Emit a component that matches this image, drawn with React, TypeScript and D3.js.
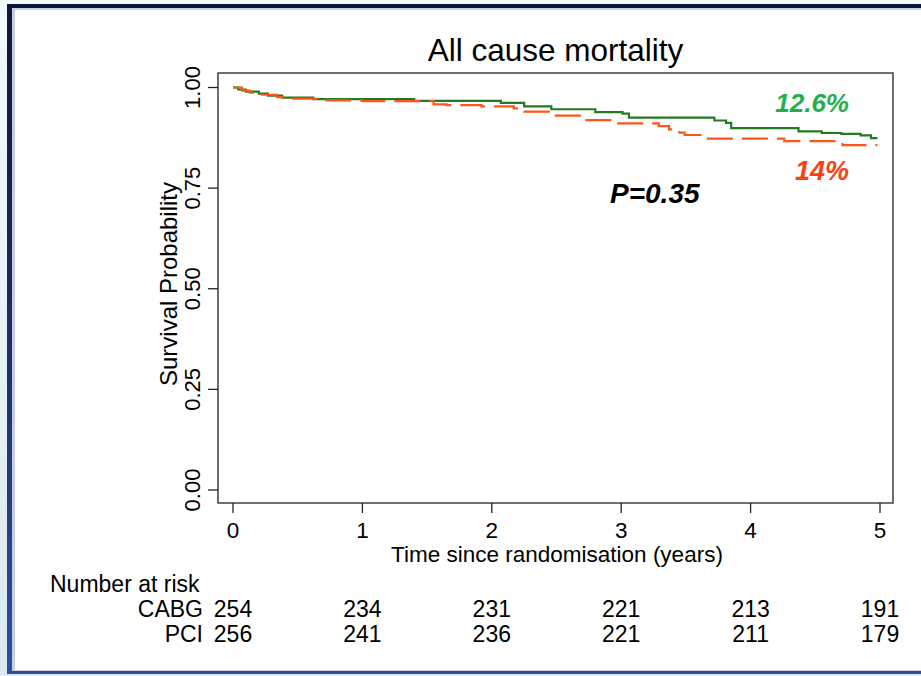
import React from "react";
import * as d3 from "d3";

// Kaplan–Meier step estimates (time in years, survival probability)
const cabgTimes = [0, 0.04, 0.1, 0.2, 0.27, 0.38, 0.62, 1.4, 2.07, 2.25, 2.46, 2.8, 3.01, 3.06, 3.72, 3.81, 3.85, 4.37, 4.55, 4.7, 4.85, 4.93, 4.98];
const cabgSurv = [1.0, 0.995, 0.99, 0.985, 0.98, 0.975, 0.971, 0.967, 0.962, 0.953, 0.946, 0.939, 0.935, 0.925, 0.918, 0.912, 0.899, 0.891, 0.887, 0.885, 0.881, 0.874, 0.874];

const pciTimes = [0, 0.07, 0.13, 0.19, 0.34, 0.43, 0.68, 1.0, 1.55, 1.65, 1.92, 2.17, 2.25, 2.47, 2.71, 2.94, 3.29, 3.37, 3.45, 3.49, 3.67, 4.26, 4.71, 4.98];
const pciSurv = [1.0, 0.992, 0.987, 0.982, 0.976, 0.972, 0.968, 0.966, 0.958, 0.956, 0.953, 0.948, 0.94, 0.93, 0.919, 0.911, 0.904, 0.896, 0.888, 0.882, 0.873, 0.867, 0.857, 0.857];

// Axis ticks
const xTicks = [0, 1, 2, 3, 4, 5];
const yTicks = [0, 0.25, 0.5, 0.75, 1.0];

// Number at risk table
const riskGroups = ["CABG", "PCI"];
const riskTimes = [0, 1, 2, 3, 4, 5];
const cabgRisk = [254, 234, 231, 221, 213, 191];
const pciRisk = [256, 241, 236, 221, 211, 179];

const W = 921;
const H = 676;
const box = { left: 218, right: 893, top: 73, bottom: 503 };
const FONT = "'Liberation Sans', Arial, Helvetica, sans-serif";

export default function App() {
  const x = d3.scaleLinear().domain([0, 5]).range([233, 880]);
  const y = d3.scaleLinear().domain([0, 1]).range([490, 87.5]);

  const line = d3
    .line<[number, number]>()
    .x((d) => x(d[0]))
    .y((d) => y(d[1]))
    .curve(d3.curveStepAfter);

  const cabgPath = line(cabgTimes.map((t, i) => [t, cabgSurv[i]]) as [number, number][]) || "";
  const pciPath = line(pciTimes.map((t, i) => [t, pciSurv[i]]) as [number, number][]) || "";

  const riskRows = [cabgRisk, pciRisk];

  return (
    <svg
      width={W}
      height={H}
      viewBox={`0 0 ${W} ${H}`}
      style={{ position: "absolute", left: 0, top: 0, display: "block" }}
    >
      <defs>
        <linearGradient id="frameGrad" x1="0" y1="0" x2="0" y2="1">
          <stop offset="0" stopColor="#0d1834" />
          <stop offset="0.45" stopColor="#1a2b5e" />
          <stop offset="1" stopColor="#2d509e" />
        </linearGradient>
        <linearGradient id="outerGrad" x1="0" y1="0" x2="0" y2="1">
          <stop offset="0" stopColor="#f3f9fc" />
          <stop offset="1" stopColor="#dce9f0" />
        </linearGradient>
      </defs>

      {/* slide background and frame */}
      <rect x={0} y={0} width={W} height={H} fill="url(#outerGrad)" />
      <rect x={7} y={4} width={W} height={670} fill="url(#frameGrad)" />
      <rect x={12} y={8} width={W} height={663} fill="#c9cde0" />
      <rect x={15} y={10} width={W} height={660} fill="#ffffff" />

      {/* title */}
      <text x={(box.left + box.right) / 2} y={61} textAnchor="middle" fontFamily={FONT} fontSize={31.5} fill="#000">
        All cause mortality
      </text>

      {/* plot box */}
      <rect
        x={box.left}
        y={box.top}
        width={box.right - box.left}
        height={box.bottom - box.top}
        fill="none"
        stroke="#222"
        strokeWidth={1.3}
      />

      {/* y axis */}
      {yTicks.map((v) => (
        <g key={`y${v}`}>
          <line x1={208} x2={box.left} y1={y(v)} y2={y(v)} stroke="#222" strokeWidth={1.3} />
          <text
            transform={`translate(200,${y(v)}) rotate(-90)`}
            textAnchor="middle"
            fontFamily={FONT}
            fontSize={22}
            fill="#000"
          >
            {v.toFixed(2)}
          </text>
        </g>
      ))}
      <text
        transform={`translate(177,${(box.top + box.bottom) / 2 - 4}) rotate(-90)`}
        textAnchor="middle"
        fontFamily={FONT}
        fontSize={24}
        fill="#000"
      >
        Survival Probability
      </text>

      {/* x axis */}
      {xTicks.map((t) => (
        <g key={`x${t}`}>
          <line x1={x(t)} x2={x(t)} y1={box.bottom} y2={box.bottom + 10} stroke="#222" strokeWidth={1.3} />
          <text x={x(t)} y={538} textAnchor="middle" fontFamily={FONT} fontSize={22.5} fill="#000">
            {t}
          </text>
        </g>
      ))}
      <text x={557} y={562} textAnchor="middle" fontFamily={FONT} fontSize={22.5} fill="#000">
        Time since randomisation (years)
      </text>

      {/* survival curves */}
      <path d={cabgPath} fill="none" stroke="#237a23" strokeWidth={2.2} />
      <path d={pciPath} fill="none" stroke="#ff5519" strokeWidth={2.2} strokeDasharray="26 9" />

      {/* annotations */}
      <text x={849} y={112} textAnchor="end" fontFamily={FONT} fontSize={26} fontWeight="bold" fontStyle="italic" fill="#22b04a">
        12.6%
      </text>
      <text x={849} y={180} textAnchor="end" fontFamily={FONT} fontSize={27} fontWeight="bold" fontStyle="italic" fill="#ff3f12">
        14%
      </text>
      <text x={610} y={203} textAnchor="start" fontFamily={FONT} fontSize={28} fontWeight="bold" fontStyle="italic" fill="#000">
        P=0.35
      </text>

      {/* number at risk table */}
      <text x={50} y={592} fontFamily={FONT} fontSize={23} fill="#000">
        Number at risk
      </text>
      {riskGroups.map((g, gi) => (
        <g key={g}>
          <text x={203} y={617 + gi * 25} textAnchor="end" fontFamily={FONT} fontSize={23} fill="#000">
            {g}
          </text>
          {riskTimes.map((t, ti) => (
            <text
              key={`${g}${t}`}
              x={x(t)}
              y={617 + gi * 25}
              textAnchor="middle"
              fontFamily={FONT}
              fontSize={23}
              fill="#000"
            >
              {riskRows[gi][ti]}
            </text>
          ))}
        </g>
      ))}
    </svg>
  );
}
